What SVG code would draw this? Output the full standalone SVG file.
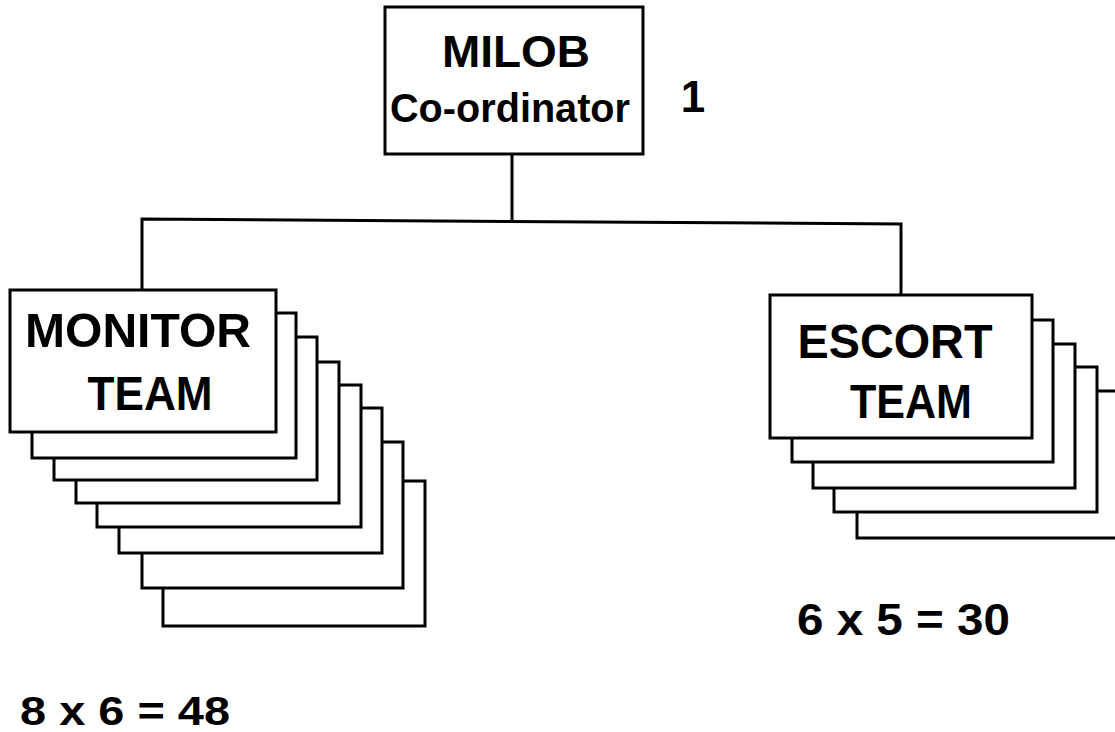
<svg xmlns="http://www.w3.org/2000/svg" width="1115" height="732" viewBox="0 0 1115 732">
<style>
.box{fill:#fff;stroke:#000;stroke-width:3}
.ln{fill:none;stroke:#000;stroke-width:3}
text{font-family:"Liberation Sans",Arial,sans-serif;font-weight:bold;fill:#000}
</style>
<rect width="1115" height="732" fill="#fff"/>
<g id="connectors">
<polyline class="ln" points="512,154 512,221"/>
<polyline class="ln" points="142,290 142,219 901,224 901,295"/>
</g>
<g id="milob">
<rect class="box" x="385" y="7" width="258" height="147"/>
<text x="516" y="67" font-size="44" text-anchor="middle" textLength="148" lengthAdjust="spacingAndGlyphs">MILOB</text>
<text x="510" y="122" font-size="41" text-anchor="middle" textLength="240" lengthAdjust="spacingAndGlyphs">Co-ordinator</text>
<text x="693" y="112" font-size="44" text-anchor="middle">1</text>
</g>
<g id="monitor-team">
<rect class="box" x="163" y="481" width="262" height="145"/>
<rect class="box" x="142" y="442" width="261" height="146"/>
<rect class="box" x="119" y="408" width="263" height="145"/>
<rect class="box" x="97" y="385" width="264" height="142"/>
<rect class="box" x="76" y="362" width="263" height="141"/>
<rect class="box" x="54" y="337" width="263" height="143"/>
<rect class="box" x="32" y="313" width="264" height="145"/>
<rect class="box" x="10" y="290" width="266" height="142"/>
<text x="138" y="347" font-size="48" text-anchor="middle" textLength="226" lengthAdjust="spacingAndGlyphs">MONITOR</text>
<text x="150" y="410" font-size="48" text-anchor="middle" textLength="125" lengthAdjust="spacingAndGlyphs">TEAM</text>
</g>
<g id="escort-team">
<rect class="box" x="857" y="391" width="268" height="147"/>
<rect class="box" x="834" y="367" width="263" height="145"/>
<rect class="box" x="813" y="344" width="262" height="144"/>
<rect class="box" x="792" y="320" width="261" height="142"/>
<rect class="box" x="770" y="295" width="262" height="143"/>
<text x="895" y="358" font-size="49" text-anchor="middle" textLength="195" lengthAdjust="spacingAndGlyphs">ESCORT</text>
<text x="911" y="418" font-size="49" text-anchor="middle" textLength="122" lengthAdjust="spacingAndGlyphs">TEAM</text>
</g>
<g id="labels">
<text x="797" y="635" font-size="44" textLength="213" lengthAdjust="spacingAndGlyphs">6 x 5 = 30</text>
<text x="20" y="725" font-size="40" textLength="210" lengthAdjust="spacingAndGlyphs">8 x 6 = 48</text>
</g>
</svg>
